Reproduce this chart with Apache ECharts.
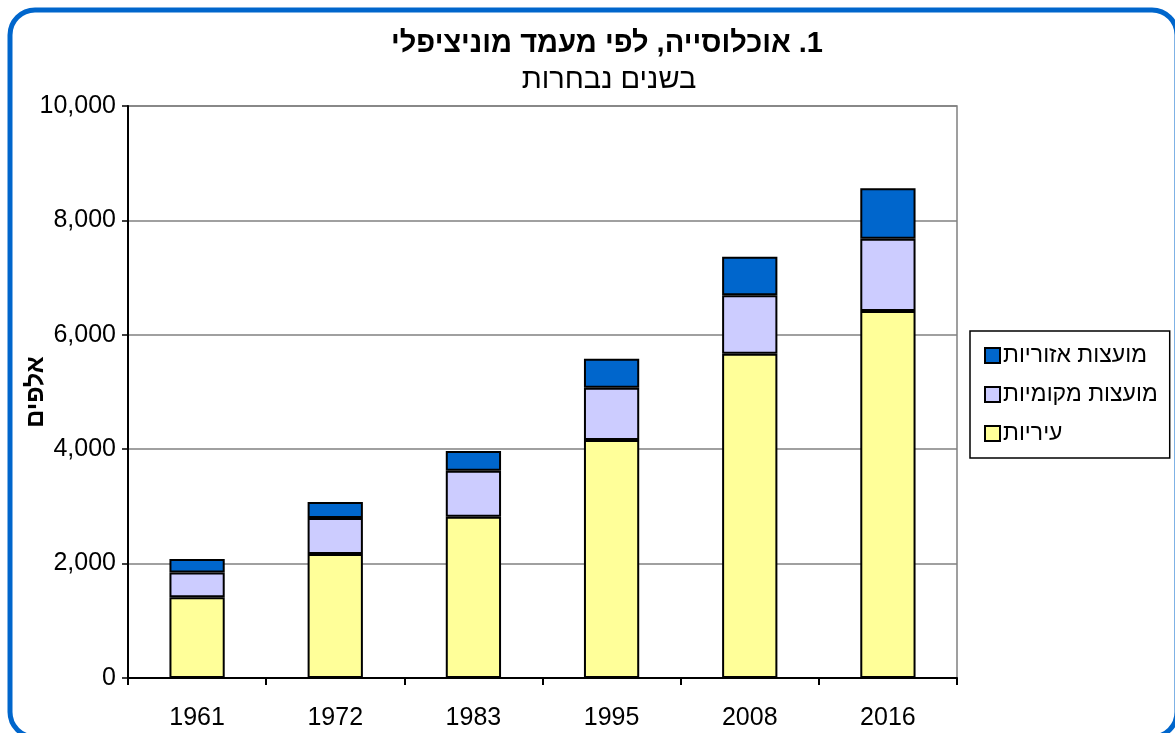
<!DOCTYPE html>
<html>
<head>
<meta charset="utf-8">
<script src="https://cdn.jsdelivr.net/npm/echarts@6/dist/echarts.min.js"></script>
<style>
  html, body { margin: 0; padding: 0; background: #fff; }
  #chart { width: 1175px; height: 733px; }
</style>
</head>
<body>
<div id="chart"></div>
<script>
const years = ['1961', '1972', '1983', '1995', '2008', '2016']
// thousands
const cities = [1411, 2168, 2820, 4161, 5670, 6416]
const localCouncils = [433, 629, 804, 914, 1021, 1264]
const regionalCouncils = [236, 280, 345, 507, 675, 881]

const seriesNames = ['עיריות', 'מועצות מקומיות', 'מועצות אזוריות']
const legendOrder = ['מועצות אזוריות', 'מועצות מקומיות', 'עיריות']
const colors = ['#FFFF99', '#CCCCFF', '#0066CC']

const font = 'Arial, "Liberation Sans", sans-serif'

const chart = echarts.init(document.getElementById('chart'))

const makeSeries = (name, data, color) => ({
  name,
  type: 'bar',
  stack: 'total',
  data,
  barWidth: '40%',
  itemStyle: { color, borderColor: '#000', borderWidth: 2 },
})

chart.setOption({
  animation: false,
  textStyle: { fontFamily: font },
  title: [
    {
      text: '\u202B1. אוכלוסייה, לפי מעמד מוניציפלי\u202C',
      left: 602,
      top: 24,
      textAlign: 'center',
      textStyle: { fontSize: 29, fontWeight: 'bold', color: '#000', fontFamily: font },
    },
    {
      text: 'בשנים נבחרות',
      left: 604,
      top: 60,
      textAlign: 'center',
      textStyle: { fontSize: 29, fontWeight: 'normal', color: '#000', fontFamily: font },
    },
  ],
  legend: {
    orient: 'vertical',
    left: 970,
    top: 331,
    padding: [13, 12, 13, 14],
    itemGap: 16,
    itemWidth: 15,
    itemHeight: 15,
    borderColor: '#000',
    borderWidth: 1.5,
    data: legendOrder,
    icon: 'rect',
    textStyle: { fontSize: 23, color: '#000', fontFamily: font, padding: [0, 0, 0, -2] },
  },
  grid: {
    left: 128,
    right: 218,
    top: 106,
    bottom: 55,
    outerBoundsMode: 'none',
    containLabel: false,
    show: true,
    borderColor: '#808080',
    borderWidth: 1.5,
  },
  xAxis: {
    type: 'category',
    data: years,
    axisLine: { lineStyle: { color: '#000', width: 2 } },
    axisTick: { show: true, length: 7, lineStyle: { color: '#000', width: 2 } },
    axisLabel: { fontSize: 25, color: '#000', margin: 28 },
  },
  yAxis: {
    type: 'value',
    min: 0,
    max: 10000,
    interval: 2000,
    name: 'אלפים',
    nameLocation: 'middle',
    nameGap: 79,
    nameMoveOverlap: false,
    nameTextStyle: { fontSize: 25, fontWeight: 'bold', color: '#000' },
    axisLine: { show: true, lineStyle: { color: '#000', width: 2 } },
    axisTick: { show: true, length: 6, lineStyle: { color: '#000', width: 1.5 } },
    axisLabel: {
      fontSize: 25,
      color: '#000',
      margin: 12,
      formatter: (v) => v.toLocaleString('en-US'),
    },
    splitLine: { lineStyle: { color: '#808080', width: 1.5 } },
  },
  series: [
    makeSeries(seriesNames[0], cities, colors[0]),
    makeSeries(seriesNames[1], localCouncils, colors[1]),
    makeSeries(seriesNames[2], regionalCouncils, colors[2]),
  ],
  graphic: [
    {
      type: 'rect',
      silent: true,
      shape: { x: 10, y: 10, width: 1167, height: 727, r: 25 },
      style: { fill: 'none', stroke: '#0066CC', lineWidth: 5 },
    },
  ],
})
</script>
</body>
</html>
